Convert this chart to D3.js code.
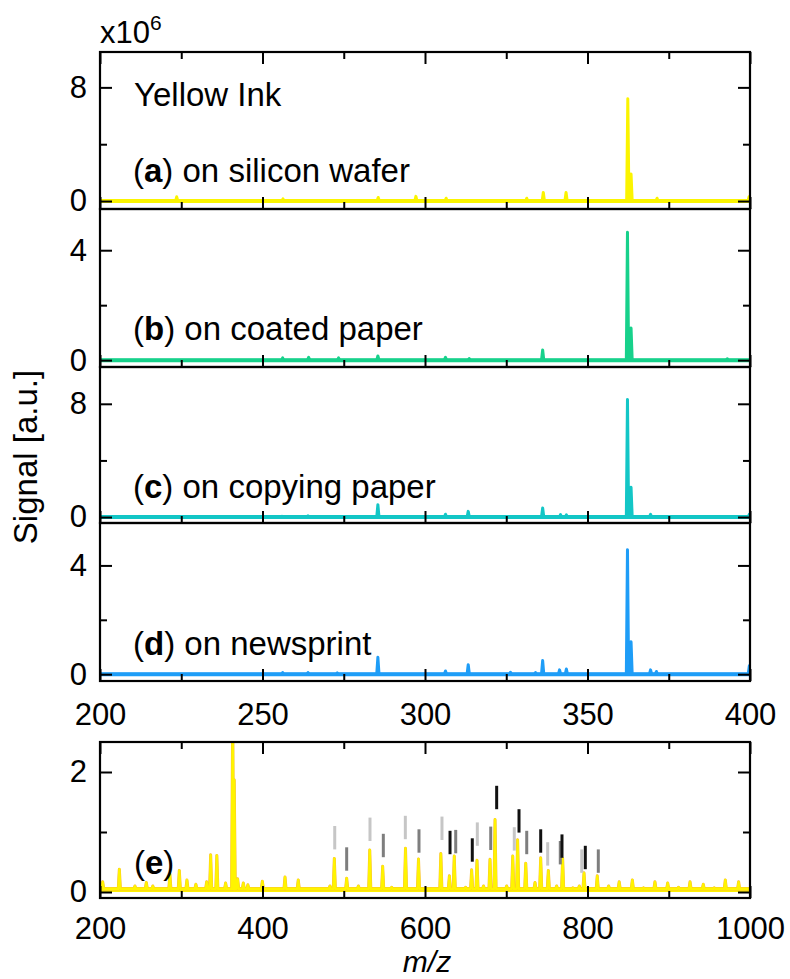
<!DOCTYPE html>
<html>
<head>
<meta charset="utf-8">
<script src="https://cdn.jsdelivr.net/npm/d3@7"></script>
<style>
  html, body { margin: 0; padding: 0; background: #fff; }
  svg { display: block; }
  text { font-family: "Liberation Sans", Arial, Helvetica, sans-serif; fill: #000; }
</style>
</head>
<body>
<svg id="chart" width="790" height="979"></svg>
<script>
// ---------------- DATA ----------------
// m/z positions and intensities (x10^6) of the peaks
const mzA  = [223.6, 256.3, 285.6, 297.2, 306.5, 331.3, 336.4, 343.4, 362.4, 363.4, 371.4, 399.7];
const sigA = [0.3, 0.15, 0.25, 0.33, 0.2, 0.2, 0.6, 0.6, 7.2, 1.9, 0.2, 0.3];

const mzB  = [256.2, 264.2, 273.4, 285.5, 306.3, 313.6, 336.2, 362.3, 363.4, 393.0];
const sigB = [0.08, 0.1, 0.08, 0.15, 0.1, 0.06, 0.37, 4.65, 1.17, 0.05];

const mzC  = [256.0, 264.0, 285.5, 306.3, 313.3, 336.2, 341.7, 343.5, 362.3, 363.4, 369.4, 399.8];
const sigC = [0.05, 0.08, 0.87, 0.2, 0.4, 0.64, 0.17, 0.15, 8.3, 2.1, 0.19, 0.2];

const mzD  = [256.2, 264.0, 273.0, 285.5, 306.3, 313.3, 326.3, 334.0, 336.2, 341.4, 343.5, 362.3, 363.4, 369.4, 371.2, 399.8];
const sigD = [0.06, 0.06, 0.05, 0.62, 0.12, 0.35, 0.07, 0.06, 0.5, 0.16, 0.19, 4.58, 1.19, 0.16, 0.1, 0.31];

const mzE  = [203.3, 223.8, 243, 257, 265, 276, 286, 297.6, 307, 318, 331.3, 336.2, 343.8, 354.6, 363.3, 365.2,
              369.4, 376.4, 382, 399.8, 427.7, 444, 483, 488.4, 503.6, 518, 532, 547.9, 559, 576, 592, 606,
              619.5, 630, 636, 650, 657.4, 664, 672, 680, 686.2, 700.5, 708, 714, 724, 735.4, 742.4, 751.8,
              762, 769.4, 782, 789.9, 795.7, 812, 826, 839, 855.2, 869, 883, 898.7, 912, 926.2, 942.5, 956,
              969.6, 986, 998];
const sigE = [0.17, 0.38, 0.1, 0.16, 0.1, 0.05, 0.3, 0.36, 0.2, 0.13, 0.17, 0.62, 0.61, 0.15, 3.0, 1.87,
              0.22, 0.15, 0.12, 0.18, 0.25, 0.2, 0.1, 0.56, 0.23, 0.1, 0.7, 0.43, 0.08, 0.73, 0.55, 0.06,
              0.64, 0.27, 0.6, 0.08, 0.37, 0.53, 0.1, 0.545, 1.21, 0.1, 0.6, 0.87, 0.48, 0.16, 0.57, 0.36,
              0.1, 0.56, 0.07, 0.1, 0.32, 0.27, 0.1, 0.17, 0.2, 0.07, 0.17, 0.15, 0.08, 0.17, 0.13, 0.07,
              0.2, 0.17, 0.06];

// assignment marks in panel (e): m/z, lower end (x10^6), shade (0 light, 1 grey, 2 black)
const markMz    = [488.9, 503.6, 532.3, 548.7, 575.8, 592.6, 620.9, 630.8, 637.8, 658.2, 664.4, 680.9,
                   688.2, 709.9, 715.7, 725.2, 742.4, 751.0, 766.5, 768.6, 792.9, 797.3, 813.3];
const markLow   = [0.71, 0.355, 0.85, 0.58, 0.88, 0.655, 0.867, 0.63, 0.645, 0.505, 0.77, 0.70,
                   1.38, 0.69, 0.99, 0.63, 0.655, 0.44, 0.46, 0.57, 0.32, 0.38, 0.32];
const markShade = [0, 1, 0, 1, 0, 1, 0, 2, 1, 2, 0, 1, 2, 0, 2, 1, 2, 0, 1, 2, 0, 2, 1];

const panelLabels = [
  {letter: "a", text: " on silicon wafer"},
  {letter: "b", text: " on coated paper"},
  {letter: "c", text: " on copying paper"},
  {letter: "d", text: " on newsprint"}
];
const xTicksTop = [200, 250, 300, 350, 400];
const xTicksTopMinor = [225, 275, 325, 375];
const xTicksE = [200, 400, 600, 800, 1000];
const xTicksEMinor = [300, 500, 700, 900];

// ---------------- LAYOUT / STYLE ----------------
const svg = d3.select("#chart");
const FS = 31;      // tick labels
const FT = 33;      // annotations / titles
const xL = 100, xR = 750;
const panels = [
  {mz: mzA, sig: sigA, top: 52,  bottom: 209, dom: [-0.56, 10.49], major: [0, 8], minor: [4], color: "#fbf400", base: 0.0},
  {mz: mzB, sig: sigB, top: 209, bottom: 367, dom: [-0.25, 5.5],   major: [0, 4], minor: [2], color: "#17d18b", base: 0.0},
  {mz: mzC, sig: sigC, top: 367, bottom: 523, dom: [-0.42, 10.6],  major: [0, 8], minor: [4], color: "#13c6c6", base: 0.0},
  {mz: mzD, sig: sigD, top: 523, bottom: 681, dom: [-0.25, 5.56],  major: [0, 4], minor: [2], color: "#1e9df7", base: 0.0}
];

const x = d3.scaleLinear().domain([200, 400]).range([xL, xR]);

function peakPoints(mz, sig, base, hw, lo, hi) {
  const idx = d3.range(mz.length).sort((i, j) => mz[i] - mz[j]);
  const pts = [[lo, base]];
  idx.forEach(i => {
    pts.push([mz[i] - hw, base]);
    pts.push([mz[i], sig[i]]);
    pts.push([mz[i] + hw, base]);
  });
  pts.push([hi, base]);
  return pts;
}

function styleAxis(g) {
  g.select(".domain").remove();
  g.selectAll(".tick line").attr("stroke", "#000").attr("stroke-width", 2);
  g.selectAll(".tick text").style("font-size", FS + "px").style("font-family", '"Liberation Sans", Arial, sans-serif');
}

panels.forEach((p, k) => {
  const y = d3.scaleLinear().domain(p.dom).range([p.bottom, p.top]);
  const clipId = "clip" + k;
  svg.append("clipPath").attr("id", clipId).append("rect")
    .attr("x", xL).attr("y", p.top).attr("width", xR - xL).attr("height", p.bottom - p.top);

  // thick noisy baseline band
  svg.append("line").attr("x1", x(200)).attr("x2", x(400)).attr("y1", y(p.base)).attr("y2", y(p.base))
    .attr("stroke", p.color).attr("stroke-width", 4);
  const line = d3.line().x(d => x(d[0])).y(d => y(d[1]));
  svg.append("path")
    .attr("clip-path", `url(#${clipId})`)
    .attr("d", line(peakPoints(p.mz, p.sig, p.base, 0.35, 200, 400)))
    .attr("fill", "none").attr("stroke", p.color).attr("stroke-width", 3)
    .attr("stroke-linejoin", "round");

  // y axes left & right
  svg.append("g").attr("transform", `translate(${xL},0)`)
    .call(d3.axisLeft(y).tickValues(p.major).tickSize(-12).tickPadding(13).tickFormat(d3.format("d")))
    .call(styleAxis);
  svg.append("g").attr("transform", `translate(${xL},0)`)
    .call(d3.axisLeft(y).tickValues(p.minor).tickSize(-7).tickFormat(""))
    .call(styleAxis);
  svg.append("g").attr("transform", `translate(${xR},0)`)
    .call(d3.axisRight(y).tickValues(p.major).tickSize(-12).tickFormat(""))
    .call(styleAxis);
  svg.append("g").attr("transform", `translate(${xR},0)`)
    .call(d3.axisRight(y).tickValues(p.minor).tickSize(-7).tickFormat(""))
    .call(styleAxis);

  // x ticks at bottom (inward)
  svg.append("g").attr("transform", `translate(0,${p.bottom})`)
    .call(d3.axisBottom(x).tickValues(xTicksTop).tickSize(-12).tickFormat(""))
    .call(styleAxis);
  svg.append("g").attr("transform", `translate(0,${p.bottom})`)
    .call(d3.axisBottom(x).tickValues(xTicksTopMinor).tickSize(-7).tickFormat(""))
    .call(styleAxis);
  if (k === 0) {
    svg.append("g").attr("transform", `translate(0,${p.top})`)
      .call(d3.axisTop(x).tickValues(xTicksTop).tickSize(-12).tickFormat(""))
      .call(styleAxis);
    svg.append("g").attr("transform", `translate(0,${p.top})`)
      .call(d3.axisTop(x).tickValues(xTicksTopMinor).tickSize(-7).tickFormat(""))
      .call(styleAxis);
  }
  if (k === 3) {
    svg.append("g").attr("transform", `translate(0,${p.bottom})`)
      .call(d3.axisBottom(x).tickValues(xTicksTop).tickSize(0).tickPadding(22).tickFormat(d3.format("d")))
      .call(styleAxis);
  }

  // frame
  svg.append("rect").attr("x", xL).attr("y", p.top).attr("width", xR - xL).attr("height", p.bottom - p.top)
    .attr("fill", "none").attr("stroke", "#000").attr("stroke-width", 2.2);

  // label
  const lab = panelLabels[k];
  const t = svg.append("text").attr("x", 133).attr("y", p.bottom - [27, 27, 25, 26][k])
    .style("font-size", FT + "px");
  t.append("tspan").text("(");
  t.append("tspan").style("font-weight", "bold").text(lab.letter);
  t.append("tspan").text(")" + lab.text);
});

// "Yellow Ink" and multiplier
svg.append("text").attr("x", 134).attr("y", 106).style("font-size", FT + "px").text("Yellow Ink");
const mult = svg.append("text").attr("x", 100).attr("y", 43).style("font-size", FS + "px");
mult.append("tspan").text("x10");
mult.append("tspan").attr("dy", -13).style("font-size", "21px").text("6");

// ---------------- PANEL E ----------------
const eTop = 742, eBottom = 898;
const xE = d3.scaleLinear().domain([200, 1000]).range([xL, xR]);
const yE = d3.scaleLinear().domain([-0.1, 2.5]).range([eBottom, eTop]);
svg.append("clipPath").attr("id", "clipE").append("rect")
  .attr("x", xL).attr("y", eTop).attr("width", xR - xL).attr("height", eBottom - eTop);
const lineE = d3.line().x(d => xE(d[0])).y(d => yE(d[1]));
const ptsE = peakPoints(mzE, sigE, 0.05, 1.3, 200, 1000);
svg.append("line").attr("x1", xE(200)).attr("x2", xE(1000)).attr("y1", yE(0.04)).attr("y2", yE(0.04))
  .attr("stroke", "#fff200").attr("stroke-width", 5);
svg.append("path").attr("clip-path", "url(#clipE)").attr("d", lineE(ptsE))
  .attr("fill", "none").attr("stroke", "#f7b43a").attr("stroke-width", 3.0).attr("stroke-linejoin", "round");
svg.append("path").attr("clip-path", "url(#clipE)").attr("d", lineE(ptsE))
  .attr("fill", "none").attr("stroke", "#fff400").attr("stroke-width", 2.3).attr("stroke-linejoin", "round");

// assignment marks
const shadeColors = ["#c6c6c6", "#7e7e7e", "#111111"];
const markLen = 0.39;
svg.append("g").selectAll("line").data(d3.range(markMz.length)).join("line")
  .attr("x1", i => xE(markMz[i])).attr("x2", i => xE(markMz[i]))
  .attr("y1", i => yE(markLow[i])).attr("y2", i => yE(markLow[i] + markLen))
  .attr("stroke", i => shadeColors[markShade[i]]).attr("stroke-width", 3);

svg.append("g").attr("transform", `translate(${xL},0)`)
  .call(d3.axisLeft(yE).tickValues([0, 2]).tickSize(-12).tickPadding(13).tickFormat(d3.format("d"))).call(styleAxis);
svg.append("g").attr("transform", `translate(${xL},0)`)
  .call(d3.axisLeft(yE).tickValues([1]).tickSize(-7).tickFormat("")).call(styleAxis);
svg.append("g").attr("transform", `translate(${xR},0)`)
  .call(d3.axisRight(yE).tickValues([0, 2]).tickSize(-12).tickFormat("")).call(styleAxis);
svg.append("g").attr("transform", `translate(${xR},0)`)
  .call(d3.axisRight(yE).tickValues([1]).tickSize(-7).tickFormat("")).call(styleAxis);
svg.append("g").attr("transform", `translate(0,${eBottom})`)
  .call(d3.axisBottom(xE).tickValues(xTicksE).tickSize(0).tickPadding(19).tickFormat(d3.format("d"))).call(styleAxis);
svg.append("g").attr("transform", `translate(0,${eBottom})`)
  .call(d3.axisBottom(xE).tickValues(xTicksE).tickSize(-12).tickFormat("")).call(styleAxis);
svg.append("g").attr("transform", `translate(0,${eBottom})`)
  .call(d3.axisBottom(xE).tickValues(xTicksEMinor).tickSize(-7).tickFormat("")).call(styleAxis);
svg.append("g").attr("transform", `translate(0,${eTop})`)
  .call(d3.axisTop(xE).tickValues(xTicksE).tickSize(-12).tickFormat("")).call(styleAxis);
svg.append("g").attr("transform", `translate(0,${eTop})`)
  .call(d3.axisTop(xE).tickValues(xTicksEMinor).tickSize(-7).tickFormat("")).call(styleAxis);
svg.append("rect").attr("x", xL).attr("y", eTop).attr("width", xR - xL).attr("height", eBottom - eTop)
  .attr("fill", "none").attr("stroke", "#000").attr("stroke-width", 2.2);

const te = svg.append("text").attr("x", 134).attr("y", 874).style("font-size", FT + "px");
te.append("tspan").text("(");
te.append("tspan").style("font-weight", "bold").text("e");
te.append("tspan").text(")");

// axis titles
svg.append("text").attr("x", 427).attr("y", 972).attr("text-anchor", "middle")
  .style("font-size", "30px").style("font-style", "italic").text("m/z");
svg.append("text").attr("transform", "translate(37,457) rotate(-90)").attr("text-anchor", "middle")
  .style("font-size", FT + "px").text("Signal [a.u.]");
</script>
</body>
</html>
